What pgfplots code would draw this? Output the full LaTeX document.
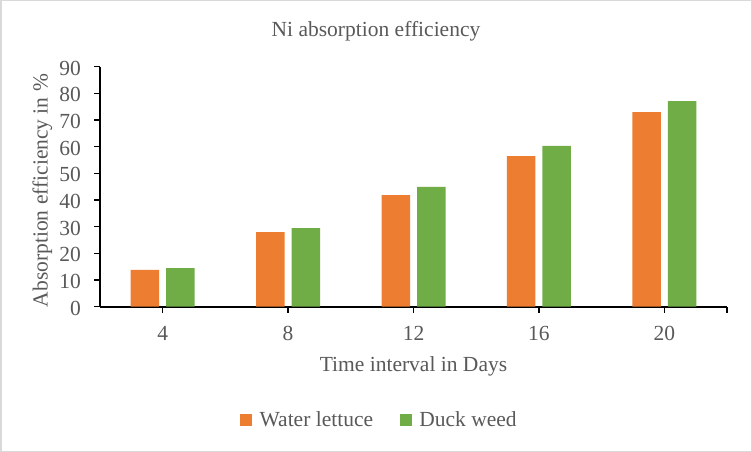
\documentclass[border=0pt]{standalone}
\usepackage{pgfplots}
\pgfplotsset{compat=1.18}
\usepackage{fontspec}
\setmainfont{Liberation Serif}
\definecolor{orng}{HTML}{ED7D31}
\definecolor{grn}{HTML}{70AD47}
\definecolor{txt}{HTML}{595959}
\definecolor{framec}{HTML}{D9D9D9}
\newcommand\cf{\fontsize{21.5bp}{25bp}\selectfont}
\begin{document}
\begin{tikzpicture}
\useasboundingbox (0,0) rectangle (752bp,452bp);
\fill[white] (0,0) rectangle (752bp,452bp);
\draw[framec, line width=1.5bp] (0.75bp,0.75bp) rectangle (751.25bp,451.25bp);
\begin{axis}[
  at={(100bp,145.3bp)}, anchor=south west,
  scale only axis, width=627bp, height=240bp,
  xmin=-0.5, xmax=4.5, ymin=0, ymax=90,
  axis lines=left, x axis line style={-}, y axis line style={-},
  axis line style={line width=2bp, black},
  tick align=outside, major tick length=6bp,
  tick style={line width=1.5bp, black},
  xtick={0,1,2,3,4,4.5}, xticklabels={4,8,12,16,20,{}},
  ytick={0,10,...,90},
  /pgf/number format/assume math mode=true,
  ticklabel style={font=\cf, text=txt},
  xticklabel style={anchor=base, inner sep=0pt, yshift=-28bp},
  yticklabel style={anchor=east, inner sep=0pt, xshift=-13bp, yshift=-1.5bp},
  title={Ni absorption efficiency},
  title style={at={(0.4402,1.099)}, anchor=base, yshift=0pt, font=\cf, text=txt, inner sep=0pt},
  xlabel={Time interval in Days},
  xlabel style={at={(0.5,-0.268)}, anchor=base, font=\cf, text=txt, inner sep=0pt},
  ylabel={Absorption efficiency in \%},
  ylabel style={at={(-0.0834,0.484)}, anchor=base, font=\cf, text=txt, inner sep=0pt},
  legend columns=2,
  legend style={at={(0.4458,-0.472)}, anchor=center, draw=none, fill=none,
    font=\cf, text=txt, inner sep=0pt,
    /tikz/every odd column/.append style={column sep=5.7bp},
    /tikz/every even column/.append style={column sep=25bp}},
  legend image code/.code={\fill[#1] (0bp,-5.8bp) rectangle (11.6bp,5.8bp);},
]
\addplot[ybar, bar width=28.5bp, bar shift=-17.75bp, fill=orng, draw=none]
  coordinates {(0,13.8) (1,28.0) (2,41.8) (3,56.5) (4,73.0)};
\addlegendentry{Water lettuce}
\addplot[ybar, bar width=28.5bp, bar shift=17.75bp, fill=grn, draw=none]
  coordinates {(0,14.5) (1,29.5) (2,44.9) (3,60.3) (4,77.1)};
\addlegendentry{Duck weed}
\end{axis}
\end{tikzpicture}
\end{document}
